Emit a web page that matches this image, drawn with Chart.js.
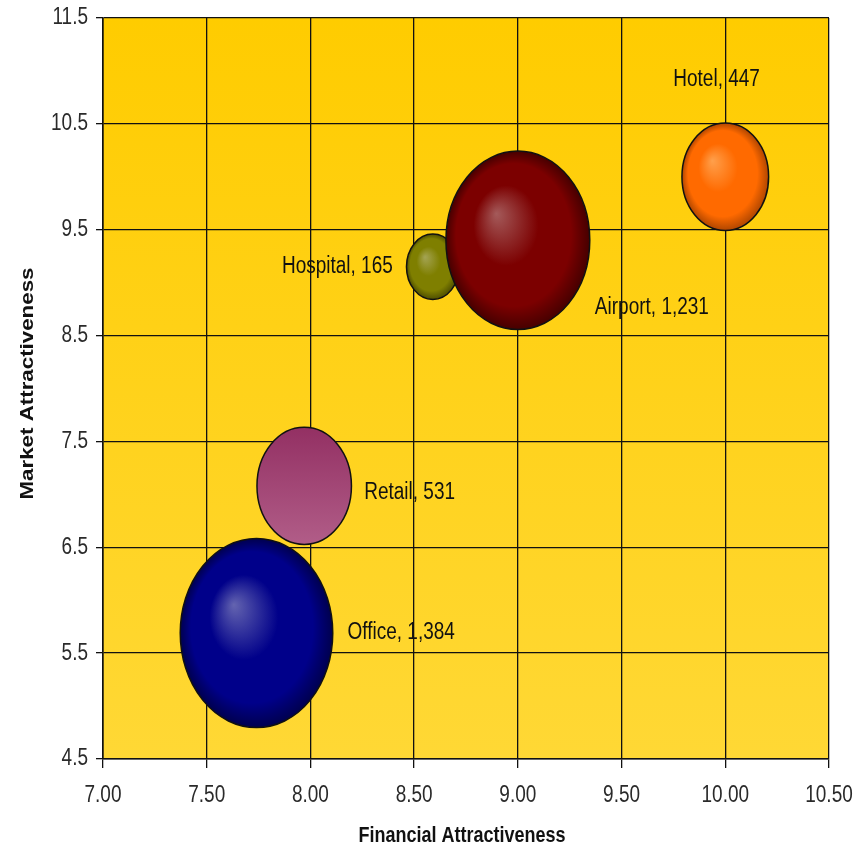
<!DOCTYPE html>
<html>
<head>
<meta charset="utf-8">
<title>Financial vs Market Attractiveness</title>
<script src="https://cdn.jsdelivr.net/npm/chart.js@4/dist/chart.umd.min.js"></script>
<style>
  html, body { margin: 0; padding: 0; background: #ffffff; }
  #wrap { width: 863px; height: 852px; position: relative; }
</style>
</head>
<body>
<div id="wrap"><canvas id="chart" width="863" height="852"></canvas></div>
<script>
// Segments plotted as bubbles: position = (financial, market), area = revenue
const segments  = ['Office', 'Retail', 'Hospital', 'Airport', 'Hotel'];
const financial = [7.74, 7.97, 8.59, 9.00, 10.00];
const market    = [5.69, 7.08, 9.15, 9.40, 10.00];
const revenue   = [1384, 531, 165, 1231, 447];

const xTicks = [7.0, 7.5, 8.0, 8.5, 9.0, 9.5, 10.0, 10.5];
const yTicks = [4.5, 5.5, 6.5, 7.5, 8.5, 9.5, 10.5, 11.5];
const xTitle = 'Financial Attractiveness';
const yTitle = 'Market Attractiveness';

// Drawing style for each bubble
const shades = {
  Office:   { type: 'sphere', hi: '#6464b0', base: '#00008a', edge: '#00004e' },
  Retail:   { type: 'linear', top: '#933063', bottom: '#b15d88' },
  Hospital: { type: 'sphere', hi: '#a4a454', base: '#7f7f00', edge: '#4e4e00' },
  Airport:  { type: 'sphere', hi: '#a45a5a', base: '#7c0000', edge: '#460000' },
  Hotel:    { type: 'sphere', hi: '#ffa04c', base: '#ff6a00', edge: '#b04600' }
};
// Label placement relative to bubble centre (px) and text alignment
const labelPlacement = {
  Office:   { dx: 91,  dy: -1,  align: 'left' },
  Retail:   { dx: 60,  dy: 7,   align: 'left' },
  Hospital: { dx: -40, dy: 0,   align: 'right' },
  Airport:  { dx: 77,  dy: 67,  align: 'left' },
  Hotel:    { dx: -52, dy: -97, align: 'left' }
};

const RADIUS_PER_ROOT = 2.05; // radius grows with sqrt(value) so area tracks value
const STRETCH_Y = 1.24;       // everything is drawn with a tall aspect: bubbles and text

const FONT = '"Liberation Sans Narrow", "Liberation Sans", Arial, sans-serif';

const points = segments.map((name, i) => ({
  x: financial[i], y: market[i], v: revenue[i], name
}));

// text with a vertical stretch (rotated text is stretched along its own direction)
function tallText(ctx, text, x, y, font, align, rotate) {
  ctx.save();
  ctx.translate(x, y);
  ctx.scale(1, STRETCH_Y);
  if (rotate) ctx.rotate(-Math.PI / 2);
  ctx.font = font;
  ctx.textAlign = align;
  ctx.textBaseline = 'middle';
  ctx.fillText(text, 0, 0);
  ctx.restore();
}

const plotBackground = {
  id: 'plotBackground',
  beforeDraw(chart) {
    const { ctx, chartArea: a } = chart;
    const g = ctx.createLinearGradient(0, a.top, 0, a.bottom);
    g.addColorStop(0, '#ffcc00');
    g.addColorStop(1, '#ffd835');
    ctx.save();
    ctx.fillStyle = g;
    ctx.fillRect(a.left, a.top, a.right - a.left, a.bottom - a.top);
    ctx.restore();
  }
};

const axisText = {
  id: 'axisText',
  afterDraw(chart) {
    const { ctx, chartArea: a } = chart;
    const xs = chart.scales.x, ys = chart.scales.y;
    ctx.save();
    ctx.fillStyle = '#2a2a2a';
    xs.ticks.forEach(t => {
      tallText(ctx, t.value.toFixed(2), xs.getPixelForValue(t.value), a.bottom + 37,
               '19px ' + FONT, 'center', false);
    });
    ys.ticks.forEach(t => {
      tallText(ctx, t.value.toFixed(1), a.left - 15, ys.getPixelForValue(t.value),
               '19px ' + FONT, 'right', false);
    });
    ctx.fillStyle = '#111';
    tallText(ctx, xTitle, (a.left + a.right) / 2 - 4, a.bottom + 77,
             'bold 18px ' + FONT, 'center', false);
    tallText(ctx, yTitle, 28, (a.top + a.bottom) / 2 - 5,
             'bold 18px ' + FONT, 'center', true);
    ctx.restore();
  }
};

const shadedBubbles = {
  id: 'shadedBubbles',
  afterDatasetsDraw(chart) {
    const { ctx, chartArea: a } = chart;
    const meta = chart.getDatasetMeta(0);
    ctx.save();
    ctx.beginPath();
    ctx.rect(a.left, a.top, a.right - a.left, a.bottom - a.top);
    ctx.clip();
    meta.data.forEach((el, i) => {
      const p = points[i];
      const s = shades[p.name];
      const rx = el.options.radius;
      const ry = rx * STRETCH_Y;
      ctx.save();
      ctx.translate(el.x, el.y);
      if (s.type === 'sphere') {
        ctx.scale(1, STRETCH_Y);
        const g = ctx.createRadialGradient(-0.3 * rx, -0.3 * rx, 0, 0, 0, rx);
        g.addColorStop(0, s.hi);
        g.addColorStop(0.45, s.base);
        g.addColorStop(0.8, s.base);
        g.addColorStop(1, s.edge);
        ctx.fillStyle = g;
        ctx.beginPath();
        ctx.arc(0, 0, rx, 0, Math.PI * 2);
        ctx.fill();
      } else {
        const g = ctx.createLinearGradient(0, -ry, 0, ry);
        g.addColorStop(0, s.top);
        g.addColorStop(1, s.bottom);
        ctx.fillStyle = g;
        ctx.beginPath();
        ctx.ellipse(0, 0, rx, ry, 0, 0, Math.PI * 2);
        ctx.fill();
      }
      ctx.restore();
      ctx.beginPath();
      ctx.ellipse(el.x, el.y, rx, ry, 0, 0, Math.PI * 2);
      ctx.lineWidth = 1.5;
      ctx.strokeStyle = '#111';
      ctx.stroke();
    });
    ctx.restore();

    // value labels
    ctx.save();
    ctx.fillStyle = '#111';
    meta.data.forEach((el, i) => {
      const p = points[i];
      const pl = labelPlacement[p.name];
      tallText(ctx, p.name + ', ' + p.v.toLocaleString('en-US'),
               el.x + pl.dx, el.y + pl.dy, '19px ' + FONT, pl.align, false);
    });
    ctx.restore();
  }
};

new Chart(document.getElementById('chart'), {
  type: 'bubble',
  data: {
    datasets: [{
      label: 'Segments',
      data: points,
      backgroundColor: 'rgba(0,0,0,0)',
      borderColor: 'rgba(0,0,0,0)',
      borderWidth: 0,
      radius: (c) => c.raw ? RADIUS_PER_ROOT * Math.sqrt(c.raw.v) : 0,
      hoverRadius: 0
    }]
  },
  options: {
    responsive: false,
    animation: false,
    events: [],
    layout: { autoPadding: false, padding: { top: 18, right: 34, left: 0, bottom: 0 } },
    plugins: {
      legend: { display: false },
      tooltip: { enabled: false }
    },
    scales: {
      x: {
        type: 'linear',
        min: 7, max: 10.5,
        afterFit: (s) => { s.height = 93; s.paddingLeft = 0; s.paddingRight = 0; },
        afterBuildTicks: (s) => { s.ticks = xTicks.map(v => ({ value: v })); },
        ticks: { display: false },
        grid: { color: '#111', lineWidth: 1.3, tickLength: 9 },
        border: { color: '#111', width: 1.6 }
      },
      y: {
        type: 'linear',
        min: 4.5, max: 11.5,
        afterFit: (s) => { s.width = 103; s.paddingTop = 0; s.paddingBottom = 0; },
        afterBuildTicks: (s) => { s.ticks = yTicks.map(v => ({ value: v })); },
        ticks: { display: false },
        grid: { color: '#111', lineWidth: 1.3, tickLength: 7 },
        border: { color: '#111', width: 1.6 }
      }
    }
  },
  plugins: [plotBackground, shadedBubbles, axisText]
});
</script>
</body>
</html>
